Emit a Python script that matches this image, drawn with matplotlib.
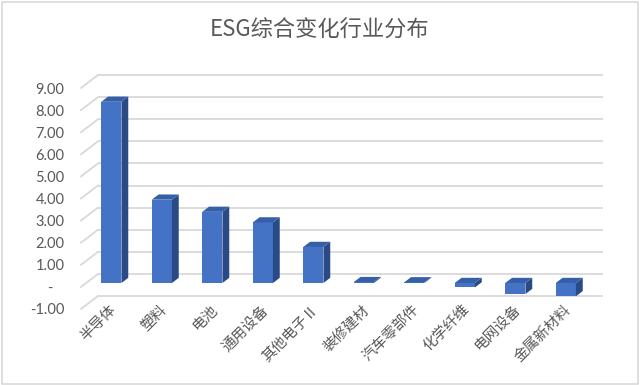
import matplotlib.pyplot as plt
import matplotlib.transforms as mtransforms
from matplotlib.patches import Polygon, Rectangle

plt.rcParams['font.family'] = ['Noto Sans CJK SC', 'DejaVu Sans']

# data
categories = ['半导体', '塑料', '电池', '通用设备', '其他电子Ⅱ',
              '装修建材', '汽车零部件', '化学纤维', '电网设备', '金属新材料']
values = [8.20, 3.77, 3.22, 2.74, 1.63, 0.04, 0.03, -0.20, -0.50, -0.60]
yticks = [-1, 0, 1, 2, 3, 4, 5, 6, 7, 8, 9]
ytick_labels = ['-1.00', '-   ', '1.00', '2.00', '3.00', '4.00',
                '5.00', '6.00', '7.00', '8.00', '9.00']
title = 'ESG综合变化行业分布'

# 3d look: full depth offset (inches), bar depth range and width
DX, DY = 0.17, 0.13
D0, D1 = 0.3, 0.7
BW = 0.4
grid_c = '#d9d9d9'
front_c = '#4472c4'
side_c = '#2a4a86'
top_c = '#3560a8'
text_c = '#595959'

fig = plt.figure(figsize=(6.4, 3.85), dpi=100)
fig.patches.append(Rectangle((0.003, 0.003), 0.994, 0.992, transform=fig.transFigure,
                             fill=False, edgecolor=grid_c, linewidth=1.2))
ax = fig.add_axes([81 / 640, 76 / 385, 505 / 640, 221 / 385])
ax.set_xlim(-0.5, len(categories) - 0.5)
ax.set_ylim(yticks[0], yticks[-1])
for s in ax.spines.values():
    s.set_visible(False)


def shift(d, ex=0.0, ey=0.0):
    return ax.transData + mtransforms.ScaledTranslation(DX * d + ex, DY * d + ey,
                                                        fig.dpi_scale_trans)


def proj(x, y, d):
    px, py = ax.transData.transform((x, y))
    return (px + DX * d * fig.dpi, py + DY * d * fig.dpi)


ident = mtransforms.IdentityTransform()
xl, xr = ax.get_xlim()

# back wall gridlines and left wall slants
ax.hlines(yticks, xl, xr, colors=grid_c, linewidth=1.3, transform=shift(1), zorder=1,
          clip_on=False)
for y in yticks:
    a = proj(xl, y, 0)
    b = proj(xl, y, 1)
    ax.plot([a[0], b[0]], [a[1], b[1]], color=grid_c, linewidth=1.3,
            transform=ident, zorder=1, clip_on=False)

# bars: front face through ax.bar, side and top faces as polygons
xs = list(range(len(categories)))
ax.bar(xs, values, width=BW, color=front_c, transform=shift(D0), zorder=3, clip_on=False)
for x, v in zip(xs, values):
    lo, hi = min(0, v), max(0, v)
    side = [proj(x + BW / 2, lo, D0), proj(x + BW / 2, hi, D0),
            proj(x + BW / 2, hi, D1), proj(x + BW / 2, lo, D1)]
    top = [proj(x - BW / 2, hi, D0), proj(x + BW / 2, hi, D0),
           proj(x + BW / 2, hi, D1), proj(x - BW / 2, hi, D1)]
    ax.add_patch(Polygon(side, closed=True, facecolor=side_c, edgecolor='none',
                         transform=ident, zorder=3, clip_on=False))
    ax.add_patch(Polygon(top, closed=True, facecolor=top_c, edgecolor='none',
                         transform=ident, zorder=3, clip_on=False))

ax.set_yticks(yticks, ytick_labels, family=['Lato', 'DejaVu Sans'], fontsize=10.5,
              color=text_c)
ax.tick_params(axis='y', length=0, pad=12)
ax.set_xticks([])

# category labels hang from the floor, rotated 45 degrees
for x, name in zip(xs, categories):
    ax.text(x, yticks[0], name, rotation=45, ha='right', va='top',
            rotation_mode='anchor', fontsize=10.5, color=text_c,
            transform=shift(0, 0.03, 0.065), clip_on=False)

fig.text(0.5, 1 - 30 / 385, title, ha='center', va='center', fontsize=16, color=text_c)

fig.savefig('out.png', dpi=100)
